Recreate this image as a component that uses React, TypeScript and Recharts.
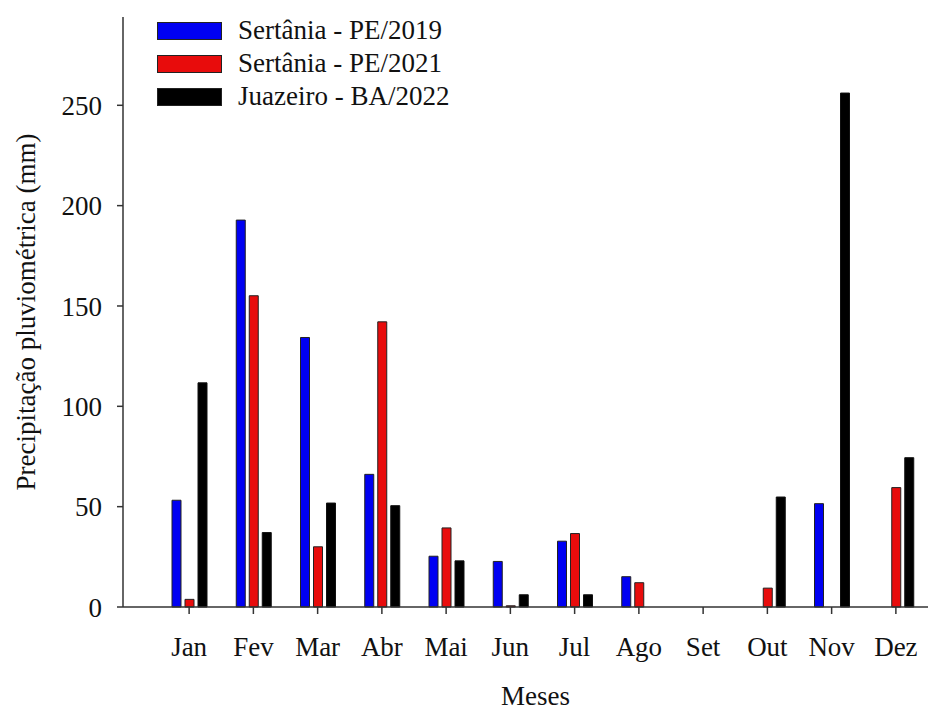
import { Bar, BarChart, XAxis, YAxis } from 'recharts';

const months = ['Jan', 'Fev', 'Mar', 'Abr', 'Mai', 'Jun', 'Jul', 'Ago', 'Set', 'Out', 'Nov', 'Dez'];
const sertania2019 = [53.2, 192.8, 134.3, 66.1, 25.3, 22.7, 32.8, 15.1, null, null, 51.5, null];
const sertania2021 = [3.8, 155.1, 30.0, 142.1, 39.4, 0.6, 36.6, 12.1, null, 9.4, null, 59.5];
const juazeiro2022 = [111.7, 37.1, 51.8, 50.5, 23.0, 6.1, 6.1, null, null, 54.8, 256.1, 74.4];
const yTicks = [0, 50, 100, 150, 200, 250];

const seriesNames = ['Sertânia - PE/2019', 'Sertânia - PE/2021', 'Juazeiro - BA/2022'];
const seriesColors = ['#0000f2', '#e80c0c', '#000000'];

const data = months.map((m, i) => ({
  month: m,
  s2019: sertania2019[i],
  s2021: sertania2021[i],
  j2022: juazeiro2022[i],
}));

const font = '"Liberation Serif", "DejaVu Serif", serif';
const axisColor = '#333';
const textColor = '#111';

function LegendBox() {
  return (
    <div
      style={{
        position: 'absolute',
        left: 157,
        top: 14,
        fontFamily: font,
        fontSize: 27,
        color: textColor,
      }}
    >
      {seriesNames.map((name, i) => (
        <div key={name} style={{ display: 'flex', alignItems: 'center', height: 33 }}>
          <span
            style={{
              display: 'inline-block',
              width: 63,
              height: 16,
              background: seriesColors[i],
              border: '1px solid #222',
              marginRight: 16,
            }}
          />
          <span style={{ lineHeight: '33px' }}>{name}</span>
        </div>
      ))}
    </div>
  );
}

export default function App() {
  return (
    <div style={{ position: 'absolute', left: 0, top: 0, width: 933, height: 712, background: '#fff' }}>
      <BarChart
        width={933}
        height={712}
        data={data}
        margin={{ top: 17, right: 5, bottom: 7, left: 10 }}
        barSize={9}
        barGap={4}
      >
        <XAxis
          dataKey="month"
          padding={{ left: 34, right: 0 }}
          stroke={axisColor}
          strokeWidth={1.5}
          tickSize={7}
          tickMargin={23}
          height={98}
          tick={{ fill: textColor, fontFamily: font, fontSize: 27 }}
          label={{
            value: 'Meses',
            position: 'insideBottom',
            offset: 0,
            dx: 10,
            style: { fill: textColor, fontFamily: font, fontSize: 27 },
          }}
        />
        <YAxis
          domain={[0, 294]}
          ticks={yTicks}
          width={113}
          stroke={axisColor}
          strokeWidth={1.5}
          tickSize={6}
          tickMargin={15}
          tick={{ fill: textColor, fontFamily: font, fontSize: 27 }}
          label={{
            value: 'Precipitação pluviométrica (mm)',
            angle: -90,
            position: 'insideLeft',
            offset: 15,
            style: { textAnchor: 'middle', fill: textColor, fontFamily: font, fontSize: 27 },
          }}
        />
        <Bar dataKey="s2019" name={seriesNames[0]} fill={seriesColors[0]} stroke="#222" strokeWidth={1} isAnimationActive={false} />
        <Bar dataKey="s2021" name={seriesNames[1]} fill={seriesColors[1]} stroke="#222" strokeWidth={1} isAnimationActive={false} />
        <Bar dataKey="j2022" name={seriesNames[2]} fill={seriesColors[2]} stroke="#111" strokeWidth={1} isAnimationActive={false} />
      </BarChart>
      <LegendBox />
    </div>
  );
}
